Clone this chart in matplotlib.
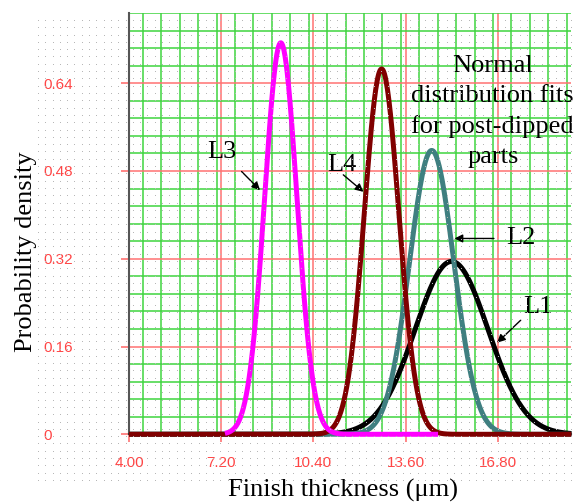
import numpy as np
import matplotlib
matplotlib.use("Agg")
import matplotlib.pyplot as plt
from matplotlib.ticker import FixedLocator, MultipleLocator

# ---- data (normal-distribution fit parameters) ----
labels = ["L1", "L2", "L4", "L3"]
means = [15.20, 14.51, 12.77, 9.27]
sigmas = [1.266, 0.771, 0.599, 0.559]
x_start = [4.0, 4.0, 4.0, 7.33]
x_end = [19.36, 19.36, 19.36, 14.73]
colors = ["#000000", "#3f7f80", "#800000", "#ff00ff"]

x_ticks = [4.00, 7.20, 10.40, 13.60, 16.80]
x_ticklabels = ["4.00", "7.20", "10.40", "13.60", "16.80"]
y_ticks = [0, 0.16, 0.32, 0.48, 0.64]
y_ticklabels = ["0", "0.16", "0.32", "0.48", "0.64"]

serif = "Liberation Serif"
sans = "Liberation Sans"
red_txt = "#ff4545"

fig = plt.figure(figsize=(5.76, 5.04), dpi=100)
fig.patch.set_facecolor("white")

# dotted background texture
H, W = 504, 576
bg = np.zeros((H, W, 4))
xs = np.arange(38, 576, 7.3).round().astype(int)
ys = np.arange(20, 480, 7.3).round().astype(int)
for yy in ys:
    for xx in xs:
        if xx < W and yy < H:
            bg[yy, xx] = [0.72, 0.72, 0.72, 1.0]
fig.figimage(bg, 0, 0, origin="upper", zorder=0)

ax = fig.add_axes([129 / 576, 1 - 434.3 / 504, 442.4 / 576, 421.3 / 504])
ax.set_facecolor("none")
ax.set_xlim(4.0, 19.36)
ax.set_ylim(0, 0.768)

# grid
ax.xaxis.set_major_locator(FixedLocator(x_ticks))
ax.yaxis.set_major_locator(FixedLocator(y_ticks))
ax.xaxis.set_minor_locator(MultipleLocator(0.64))
ax.yaxis.set_minor_locator(MultipleLocator(0.032))
ax.grid(which="minor", color="#3fd43f", lw=1.1, zorder=1)
ax.grid(which="major", color="#ff7272", lw=1.1, zorder=1.1)
ax.set_axisbelow(True)

# curves
for m, s, a, b, c in zip(means, sigmas, x_start, x_end, colors):
    xv = np.linspace(a, b, 600)
    yv = np.exp(-0.5 * ((xv - m) / s) ** 2) / (s * np.sqrt(2 * np.pi))
    ax.plot(xv, yv, color=c, lw=3.6, solid_capstyle="butt", zorder=3, clip_on=False)

# spines
for sp in ["top", "right"]:
    ax.spines[sp].set_visible(False)
ax.spines["left"].set_color("#555555")
ax.spines["left"].set_linewidth(1.5)
ax.spines["bottom"].set_color("#333333")
ax.spines["bottom"].set_linewidth(1.5)

# ticks
ax.set_xticks(x_ticks)
ax.set_xticklabels(x_ticklabels, fontfamily=sans, fontsize=11, color=red_txt)
ax.set_yticks(y_ticks)
ax.set_yticklabels(y_ticklabels, fontfamily=sans, fontsize=11, color=red_txt,
                   ha="left")
ax.tick_params(axis="x", which="major", direction="out", length=5.8, width=1.2,
               color="#ff7272", pad=10)
ax.tick_params(axis="y", which="major", direction="out", length=5.8, width=1.2,
               color="#ff7272", pad=56)
ax.tick_params(which="minor", length=0)
ax.xaxis.get_major_ticks()[0].tick1line.set_color("#555555")
ax.yaxis.get_major_ticks()[0].tick1line.set_color("#333333")

# axis labels
fig.text(343 / 576, 1 - 490 / 504, "Finish thickness (\u03bcm)", fontfamily=serif,
         fontsize=19, ha="center", va="center")
fig.text(26 / 576, 1 - 252 / 504, "Probability density", fontfamily=serif,
         fontsize=19, ha="center", va="center", rotation=90)

# annotations
arrow = dict(arrowstyle="-|>", color="black", lw=1.0, mutation_scale=12,
             shrinkA=0, shrinkB=0)
ax.text(7.22, 0.515, "L3", fontfamily=serif, fontsize=19, ha="center", va="center")
ax.annotate("", xy=(8.55, 0.445), xytext=(7.91, 0.479), arrowprops=arrow)
ax.text(11.39, 0.491, "L4", fontfamily=serif, fontsize=19, ha="center", va="center")
ax.annotate("", xy=(12.14, 0.442), xytext=(11.44, 0.473), arrowprops=arrow)
ax.text(17.60, 0.357, "L2", fontfamily=serif, fontsize=19, ha="center", va="center")
ax.annotate("", xy=(15.30, 0.357), xytext=(16.67, 0.357), arrowprops=arrow)
ax.text(18.20, 0.232, "L1", fontfamily=serif, fontsize=19, ha="center", va="center")
ax.annotate("", xy=(16.78, 0.167), xytext=(17.60, 0.208), arrowprops=arrow)

ax.text(16.63, 0.588, "Normal\ndistribution fits\nfor post-dipped\nparts",
        fontfamily=serif, fontsize=19, ha="center", va="center", linespacing=1.46)

fig.savefig("out.png", dpi=100, facecolor="white")
